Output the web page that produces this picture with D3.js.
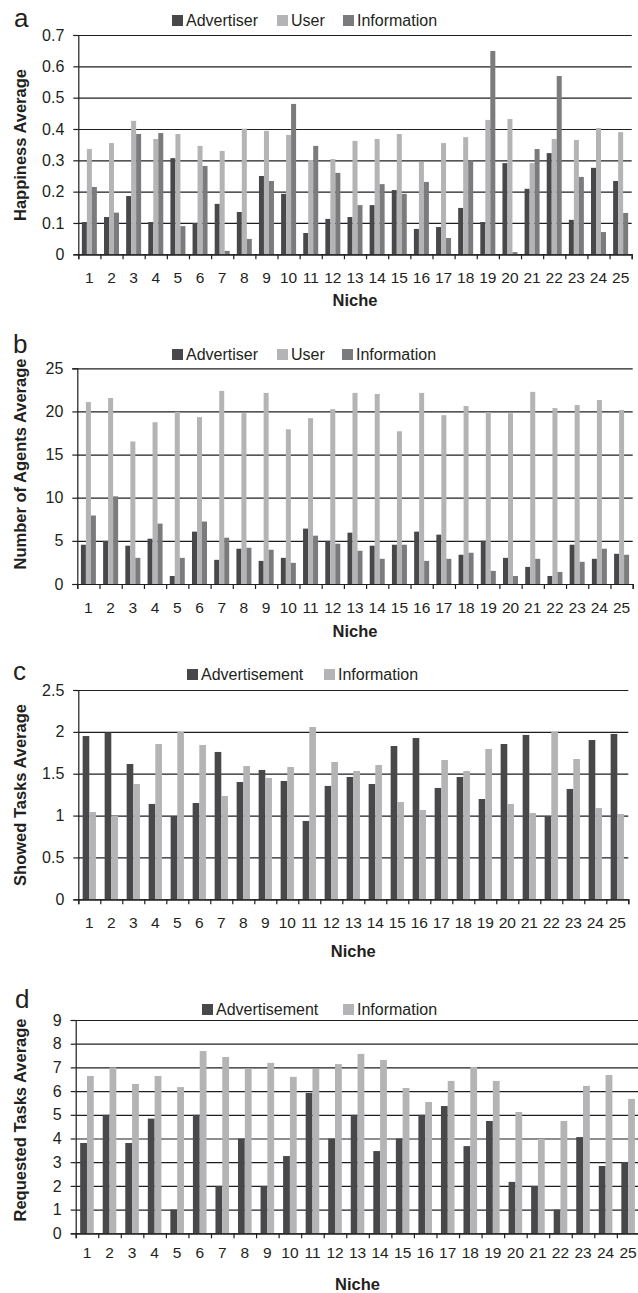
<!DOCTYPE html>
<html>
<head>
<meta charset="utf-8">
<script src="https://cdn.jsdelivr.net/npm/d3@7"></script>
<style>
	html, body { margin: 0; padding: 0; background: #fff; }
	svg { display: block; font-family: "Liberation Sans", Arial, sans-serif; }
	.tick text { fill: #231f20; }
</style>
</head>
<body>
<div id="graphic"></div>
<script>
// data
const niches = ['1','2','3','4','5','6','7','8','9','10','11','12','13','14','15','16','17','18','19','20','21','22','23','24','25'];

const happinessAdvertiser = [0.103,0.119,0.186,0.103,0.307,0.100,0.161,0.135,0.250,0.193,0.068,0.113,0.119,0.157,0.205,0.081,0.087,0.148,0.103,0.291,0.209,0.323,0.110,0.276,0.234];
const happinessUser = [0.336,0.355,0.426,0.368,0.384,0.346,0.330,0.401,0.394,0.381,0.301,0.304,0.362,0.368,0.384,0.295,0.355,0.374,0.429,0.432,0.291,0.368,0.365,0.403,0.390];
const happinessInformation = [0.215,0.133,0.384,0.387,0.090,0.282,0.011,0.049,0.234,0.480,0.346,0.260,0.157,0.224,0.193,0.231,0.052,0.300,0.649,0.007,0.336,0.569,0.247,0.071,0.132];

const agentsAdvertiser = [4.55,5.00,4.44,5.25,0.93,6.07,2.80,4.09,2.68,3.03,6.42,5.00,5.95,4.44,4.55,6.07,5.72,3.39,5.02,3.03,1.98,0.93,4.55,2.92,3.50];
const agentsUser = [21.09,21.56,16.52,18.75,19.96,19.34,22.38,19.80,22.15,17.93,19.22,20.27,22.15,22.03,17.70,22.15,19.57,20.63,19.92,19.80,22.27,20.39,20.74,21.33,20.16];
const agentsInformation = [7.94,10.16,3.03,7.00,3.03,7.24,5.37,4.20,3.97,2.45,5.60,4.67,3.85,2.92,4.55,2.68,2.92,3.62,1.52,0.93,2.92,1.40,2.57,4.09,3.39];

const showedAdvertisement = [1.950,1.994,1.616,1.139,0.995,1.150,1.760,1.401,1.545,1.413,0.936,1.354,1.461,1.377,1.831,1.927,1.330,1.461,1.198,1.855,1.963,0.990,1.318,1.903,1.975];
const showedInformation = [1.043,0.995,1.377,1.855,1.998,1.843,1.234,1.592,1.449,1.580,2.058,1.640,1.533,1.604,1.162,1.067,1.664,1.533,1.795,1.139,1.031,1.998,1.676,1.091,1.019];

const requestedAdvertisement = [3.81,5.00,3.81,4.84,1.00,5.00,2.00,4.00,2.00,3.26,5.92,4.00,5.00,3.47,4.00,5.00,5.37,3.68,4.74,2.17,2.00,1.00,4.06,2.84,3.01];
const requestedInformation = [6.64,7.00,6.30,6.64,6.17,7.69,7.44,6.95,7.19,6.60,6.93,7.14,7.57,7.31,6.13,5.54,6.43,7.02,6.43,5.12,3.98,4.74,6.22,6.68,5.67];

const yTicksA = [0, 0.1, 0.2, 0.3, 0.4, 0.5, 0.6, 0.7];
const yTicksB = [0, 5, 10, 15, 20, 25];
const yTicksC = [0, 0.5, 1, 1.5, 2, 2.5];
const yTicksD = [0, 1, 2, 3, 4, 5, 6, 7, 8, 9];

const colours = { dark: '#48484a', light: '#b4b4b6', mid: '#7b7b7d' };

const panels = [
	{
		letter: 'a', letterPos: [14, 27],
		yLabel: 'Happiness Average', yLabelY: 145,
		top: 35, bottom: 254.3, left: 78.3, right: 631.7,
		yMax: 0.7, yTicks: yTicksA, labelGap: 29, nicheGap: 52,
		groupFrac: 15 / 22.14,
		series: [
			{ name: 'Advertiser', values: happinessAdvertiser, colour: colours.dark, lx: 172 },
			{ name: 'User', values: happinessUser, colour: colours.light, lx: 277 },
			{ name: 'Information', values: happinessInformation, colour: colours.mid, lx: 343 }
		],
		legendY: 15
	},
	{
		letter: 'b', letterPos: [13, 353],
		yLabel: 'Number of Agents Average', yLabelY: 464,
		top: 368.3, bottom: 584, left: 77.3, right: 632.7,
		yMax: 25, yTicks: yTicksB, labelGap: 29, nicheGap: 53,
		groupFrac: 15 / 22.2,
		series: [
			{ name: 'Advertiser', values: agentsAdvertiser, colour: colours.dark, lx: 172 },
			{ name: 'User', values: agentsUser, colour: colours.light, lx: 277 },
			{ name: 'Information', values: agentsInformation, colour: colours.mid, lx: 342 }
		],
		legendY: 349
	},
	{
		letter: 'c', letterPos: [13, 680],
		yLabel: 'Showed Tasks Average', yLabelY: 795,
		top: 690, bottom: 899.3, left: 78.3, right: 628.3,
		yMax: 2.5, yTicks: yTicksC, labelGap: 29, nicheGap: 58,
		groupFrac: 13.3 / 22,
		series: [
			{ name: 'Advertisement', values: showedAdvertisement, colour: colours.dark, lx: 187 },
			{ name: 'Information', values: showedInformation, colour: colours.light, lx: 324 }
		],
		legendY: 669
	},
	{
		letter: 'd', letterPos: [15, 1008],
		yLabel: 'Requested Tasks Average', yLabelY: 1120,
		top: 1020, bottom: 1233.3, left: 75.7, right: 639.4,
		yMax: 9, yTicks: yTicksD, labelGap: 25, nicheGap: 57,
		groupFrac: 13.6 / 22.55,
		series: [
			{ name: 'Advertisement', values: requestedAdvertisement, colour: colours.dark, lx: 202 },
			{ name: 'Information', values: requestedInformation, colour: colours.light, lx: 343 }
		],
		legendY: 1004
	}
];

const svg = d3.select('#graphic')
	.append('svg')
	.attr('width', 638)
	.attr('height', 1293);

function drawPanel(p) {
	const g = svg.append('g');

	const x0 = d3.scaleBand()
		.domain(niches)
		.range([p.left, p.right])
		.padding(0);

	const names = p.series.map(s => s.name);
	const pad = (1 - p.groupFrac) / 2 * x0.bandwidth();
	const x1 = d3.scaleBand()
		.domain(names)
		.range([pad, x0.bandwidth() - pad])
		.padding(0);

	const y = d3.scaleLinear()
		.domain([0, p.yMax])
		.range([p.bottom, p.top]);

	// gridlines
	g.append('g')
		.attr('class', 'grid')
		.attr('transform', `translate(${p.left},0)`)
		.call(d3.axisLeft(y).tickValues(p.yTicks).tickSize(-(p.right - p.left)).tickFormat(''))
		.call(s => s.select('.domain').remove())
		.call(s => s.selectAll('line').attr('stroke', '#1e1e1e').attr('stroke-width', 1.2));

	// bars
	const rows = niches.map((n, i) => ({ niche: n, vals: p.series.map(s => ({ name: s.name, v: s.values[i], colour: s.colour })) }));
	g.append('g')
		.selectAll('g')
		.data(rows)
		.join('g')
		.attr('transform', d => `translate(${x0(d.niche)},0)`)
		.selectAll('rect')
		.data(d => d.vals)
		.join('rect')
		.attr('x', d => x1(d.name))
		.attr('width', x1.bandwidth())
		.attr('y', d => y(d.v))
		.attr('height', d => y(0) - y(d.v))
		.attr('fill', d => d.colour);

	// y axis
	g.append('g')
		.attr('transform', `translate(${p.left},0)`)
		.call(d3.axisLeft(y).tickValues(p.yTicks).tickSize(5).tickPadding(9).tickFormat(d => String(d)))
		.call(s => s.select('.domain').attr('stroke', '#1e1e1e').attr('stroke-width', 1.2))
		.call(s => s.selectAll('line').attr('stroke', '#1e1e1e').attr('stroke-width', 1.2))
		.call(s => s.selectAll('text').attr('font-size', 16).attr('fill', '#231f20'));

	// x axis: tick marks at category boundaries
	const xb = d3.scaleLinear().domain([0, niches.length]).range([p.left, p.right]);
	g.append('g')
		.attr('transform', `translate(0,${p.bottom})`)
		.call(d3.axisBottom(xb).tickValues(d3.range(niches.length + 1)).tickSize(5).tickFormat(''))
		.call(s => s.select('.domain').attr('stroke', '#1e1e1e').attr('stroke-width', 1.2))
		.call(s => s.selectAll('line').attr('stroke', '#1e1e1e').attr('stroke-width', 1.2));

	// x axis: labels centred in categories
	g.append('g')
		.attr('transform', `translate(0,${p.bottom})`)
		.call(d3.axisBottom(x0).tickSize(0).tickPadding(0))
		.call(s => s.select('.domain').remove())
		.call(s => s.selectAll('text').attr('dy', null).attr('y', p.labelGap).attr('font-size', 15.5).attr('fill', '#231f20'));

	// axis titles
	g.append('text')
		.attr('x', (p.left + p.right) / 2)
		.attr('y', p.bottom + p.nicheGap)
		.attr('text-anchor', 'middle')
		.attr('font-weight', 'bold')
		.attr('font-size', 16.5)
		.attr('fill', '#231f20')
		.text('Niche');

	g.append('text')
		.attr('transform', `translate(26,${p.yLabelY}) rotate(-90)`)
		.attr('text-anchor', 'middle')
		.attr('font-weight', 'bold')
		.attr('font-size', 16.5)
		.attr('fill', '#231f20')
		.text(p.yLabel);

	// panel letter
	g.append('text')
		.attr('x', p.letterPos[0])
		.attr('y', p.letterPos[1])
		.attr('font-size', 26)
		.attr('fill', '#231f20')
		.text(p.letter);

	// legend
	const leg = g.append('g')
		.selectAll('g')
		.data(p.series)
		.join('g')
		.attr('transform', d => `translate(${d.lx},${p.legendY})`);
	leg.append('rect')
		.attr('width', 11)
		.attr('height', 11)
		.attr('fill', d => d.colour);
	leg.append('text')
		.attr('x', 14)
		.attr('y', 11)
		.attr('font-size', 16)
		.attr('fill', '#231f20')
		.text(d => d.name);
}

panels.forEach(drawPanel);
</script>
</body>
</html>
